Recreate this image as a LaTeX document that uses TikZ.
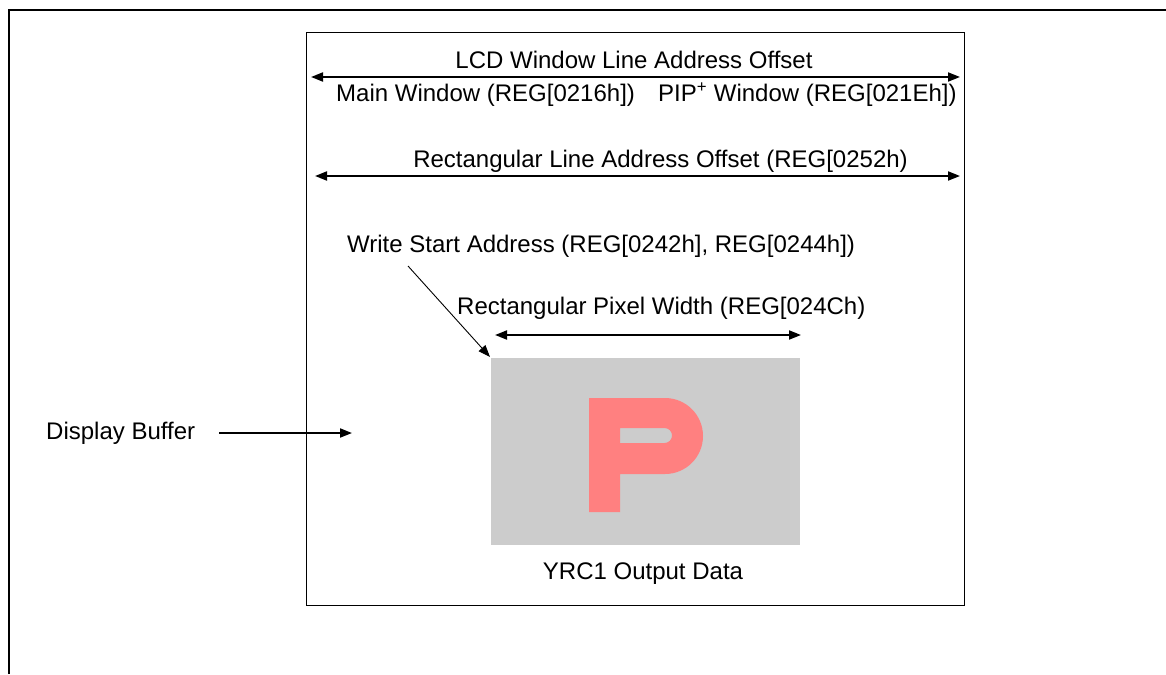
\documentclass[tikz,border=0pt]{standalone}
\usepackage{fontspec}
\setmainfont{Liberation Sans}
\usetikzlibrary{arrows.meta}
\definecolor{bufgray}{HTML}{CCCCCC}
\definecolor{psalmon}{HTML}{FF8080}
\tikzset{
  lbl/.style={inner sep=0pt, font=\fontsize{24}{28}\selectfont},
  dimarrow/.style={line width=1.8pt, {Triangle[length=12pt,width=9pt]}-{Triangle[length=12pt,width=9pt]}},
  onearrow/.style={line width=1.8pt, -{Triangle[length=12pt,width=9pt]}},
  thinarrow/.style={line width=0.9pt, -{Triangle[length=12pt,width=9pt]}},
  frame/.style={line width=2pt},
  innerbox/.style={draw, line width=1pt},
}
\begin{document}
\begin{tikzpicture}[x=1pt,y=-1pt]
\useasboundingbox (0,0) rectangle (1166,674);
% outer frame
\draw[frame] (9,674) -- (9,10) -- (1166,10);
% inner display buffer box
\node[innerbox, minimum width=658pt, minimum height=573pt, inner sep=0pt, anchor=north west] (buf) at (306,32) {};
% gray rectangle
\node[fill=bufgray, minimum width=309pt, minimum height=187pt, inner sep=0pt, anchor=north west] (rect) at (491,358) {};
% letter P
\fill[psalmon, even odd rule]
  (589,398) -- (665,398) arc[start angle=-90, end angle=90, radius=38] -- (620,474) -- (620,512) -- (589,512) -- cycle
  (620,428) -- (664.5,428) arc[start angle=-90, end angle=90, radius=7.5] -- (620,443) -- cycle;
% texts
\node[lbl, anchor=base] (lcd) at (634,68.5) {LCD Window Line Address Offset};
\node[lbl, anchor=base west] (mainw) at (336,102) {Main Window (REG[0216h])};
\node[lbl, anchor=base west] (pipw) at (658,102) {PIP\textsuperscript{+} Window (REG[021Eh])};
\node[lbl, anchor=base] (rlao) at (660.5,167) {Rectangular Line Address Offset (REG[0252h)};
\node[lbl, anchor=base west] (wsa) at (347,252) {Write Start Address (REG[0242h], REG[0244h])};
\node[lbl, anchor=base west] (rpw) at (457,314) {Rectangular Pixel Width (REG[024Ch)};
\node[lbl, anchor=base] (yrc) at (643,579) {YRC1 Output Data};
\node[lbl, anchor=base west] (dbuf) at (46,439) {Display Buffer};
% arrow coordinates
\coordinate (lcdL) at (311,77);
\coordinate (lcdR) at (960,77);
\coordinate (rlaoL) at (315,176);
\coordinate (rlaoR) at (960,176);
\coordinate (rpwL) at (495,335);
\coordinate (rpwR) at (801,335);
\coordinate (wsaS) at (408,266);
\coordinate (wsaT) at (490,357);
\coordinate (dbS) at (219,433);
\coordinate (dbT) at (352,433);
% arrows
\draw[dimarrow] (lcdL) -- (lcdR);
\draw[dimarrow] (rlaoL) -- (rlaoR);
\draw[dimarrow] (rpwL) -- (rpwR);
\draw[thinarrow] (wsaS) -- (wsaT);
\draw[onearrow] (dbS) -- (dbT);
\end{tikzpicture}
\end{document}
